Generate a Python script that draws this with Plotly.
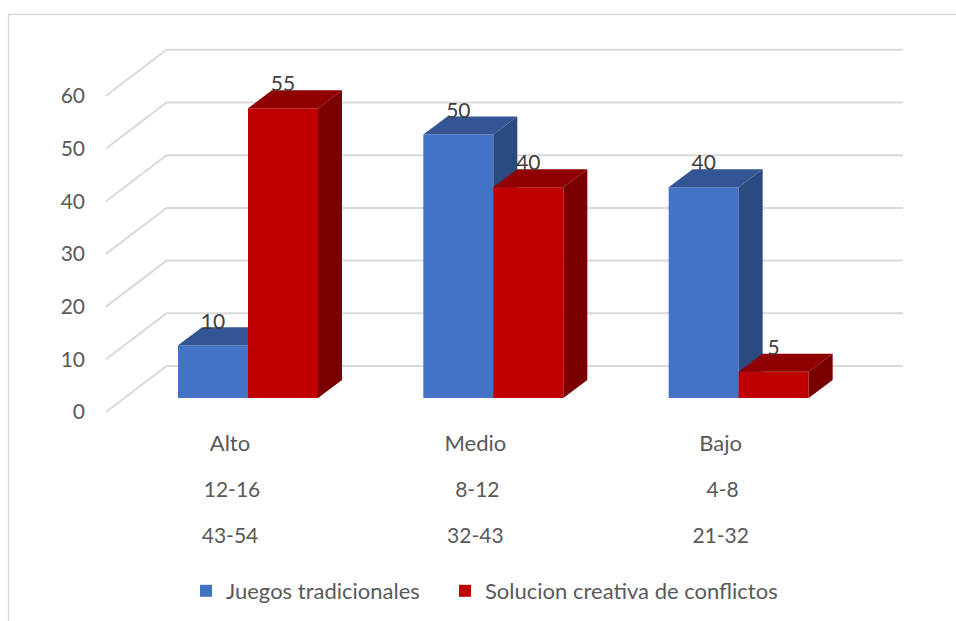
import plotly.graph_objects as go

# Data
niveles = ["Alto", "Medio", "Bajo"]
rango_juegos = ["12-16", "8-12", "4-8"]
rango_solucion = ["43-54", "32-43", "21-32"]
juegos = [10, 50, 40]
solucion = [55, 40, 5]
y_ticks = [0, 10, 20, 30, 40, 50, 60]
serie_juegos = "Juegos tradicionales"
serie_solucion = "Solucion creativa de conflictos"

# Page geometry -> axis scale
W, H = 956, 621
X0_PX, CAT_PX = 248.0, 245.33      # x=0 position and category spacing (px)
Y0_PX, UNIT_PX = 398.0, 5.27       # value 0 position and px per value unit
xr = [-X0_PX / CAT_PX, (W - X0_PX) / CAT_PX]
yr = [-(H - Y0_PX) / UNIT_PX, Y0_PX / UNIT_PX]
BAR_W = 70 / CAT_PX
DX, DY = 24 / CAT_PX, 18 / UNIT_PX   # bar depth projection
FONT = "Lato"
TICK_C = "#595959"


def polys(xs):
    """join polygons/segments separated by None"""
    ox, oy = [], []
    for px_, py_ in xs:
        ox += px_ + [None]
        oy += py_ + [None]
    return ox, oy


def faces(values, offset):
    top, side = [], []
    for i, v in enumerate(values):
        l = i + offset
        r = l + BAR_W
        top.append(([l, l + DX, r + DX, r, l], [v, v + DY, v + DY, v, v]))
        side.append(([r, r + DX, r + DX, r, r], [0, DY, v + DY, v, 0]))
    return polys(top), polys(side)


fig = go.Figure()

# Gridlines (back wall + left wall) on the base layer
gx_back, gx_right, gx_front = (166.5 - X0_PX) / CAT_PX, (903 - X0_PX) / CAT_PX, (106 - X0_PX) / CAT_PX
d_back, d_front = 32 / UNIT_PX, -14 / UNIT_PX
gx, gy = polys([([gx_front, gx_back, gx_right], [t + d_front, t + d_back, t + d_back]) for t in y_ticks])
fig.add_trace(go.Scatter(x=gx, y=gy, mode="lines", line=dict(color="#D9D9D9", width=2),
                         showlegend=False, hoverinfo="skip"))

# Blue series
fig.add_trace(go.Bar(x=[0, 1, 2], y=juegos, width=BAR_W, offset=-BAR_W, name=serie_juegos,
                     marker=dict(color="#4472C4", line=dict(width=0)), xaxis="x2", yaxis="y2",
                     legend="legend"))
(tx, ty), (sx, sy) = faces(juegos, -BAR_W)
fig.add_trace(go.Scatter(x=tx, y=ty, mode="lines", fill="toself", fillcolor="#335593", line=dict(width=0),
                         showlegend=False, hoverinfo="skip", xaxis="x2", yaxis="y2"))
fig.add_trace(go.Scatter(x=sx, y=sy, mode="lines", fill="toself", fillcolor="#2A4A80", line=dict(width=0),
                         showlegend=False, hoverinfo="skip", xaxis="x2", yaxis="y2"))

# Red series
fig.add_trace(go.Bar(x=[0, 1, 2], y=solucion, width=BAR_W, offset=0, name=serie_solucion,
                     marker=dict(color="#C00000", line=dict(width=0)), xaxis="x3", yaxis="y3",
                     legend="legend2"))
(tx, ty), (sx, sy) = faces(solucion, 0)
fig.add_trace(go.Scatter(x=tx, y=ty, mode="lines", fill="toself", fillcolor="#900000", line=dict(width=0),
                         showlegend=False, hoverinfo="skip", xaxis="x3", yaxis="y3"))
fig.add_trace(go.Scatter(x=sx, y=sy, mode="lines", fill="toself", fillcolor="#7A0000", line=dict(width=0),
                         showlegend=False, hoverinfo="skip", xaxis="x3", yaxis="y3"))

# Data labels
LAB = 22 / UNIT_PX
for vals, off in ((juegos, -BAR_W / 2), (solucion, BAR_W / 2)):
    fig.add_trace(go.Scatter(x=[i + off for i in range(3)], y=[v + LAB for v in vals],
                             mode="text", text=[str(v) for v in vals], textposition="middle center",
                             textfont=dict(family=FONT, size=21, color="#404040"),
                             showlegend=False, hoverinfo="skip", xaxis="x3", yaxis="y3"))


def xa(labels, row_px, shift, size, **kw):
    return dict(range=xr, anchor="free", position=1 - row_px / H, tickmode="array", tickvals=[0, 1, 2],
                ticktext=labels, ticks="", showgrid=False, zeroline=False, showline=False,
                ticklabelshift=shift, tickfont=dict(family=FONT, size=size, color=TICK_C), **kw)


def ya_hidden():
    return dict(range=yr, overlaying="y", visible=False, showgrid=False, zeroline=False)


def leg(x_px):
    return dict(orientation="h", x=x_px / W, xanchor="left", y=1 - 591 / H, yanchor="middle",
                font=dict(family=FONT, size=22, color=TICK_C), bgcolor="rgba(0,0,0,0)")


fig.update_layout(
    width=W, height=H, margin=dict(l=0, r=0, t=0, b=0),
    paper_bgcolor="white", plot_bgcolor="rgba(0,0,0,0)", barmode="overlay",
    xaxis=xa(niveles, 428, -18, 22),
    xaxis2=xa(rango_juegos, 475, -16, 21, overlaying="x"),
    xaxis3=xa(rango_solucion, 521, -18, 21, overlaying="x"),
    yaxis=dict(range=yr, anchor="free", position=85 / W, tickmode="array", tickvals=y_ticks, ticks="",
               showgrid=False, zeroline=False, showline=False, ticklabelshift=14,
               tickfont=dict(family=FONT, size=21, color=TICK_C)),
    yaxis2=ya_hidden(), yaxis3=ya_hidden(),
    legend=leg(186), legend2=leg(445),
    shapes=[dict(type="line", xref="paper", yref="paper", x0=8.5 / W, x1=1, y0=1 - 14.5 / H, y1=1 - 14.5 / H,
                 line=dict(color="#D9D9D9", width=1.5)),
            dict(type="line", xref="paper", yref="paper", x0=8.5 / W, x1=8.5 / W, y0=0, y1=1 - 14.5 / H,
                 line=dict(color="#D9D9D9", width=1.5))],
)

fig.write_html("out.html", config={"displayModeBar": False},
               post_script="document.body.style.margin='0';document.body.style.overflow='hidden';")
